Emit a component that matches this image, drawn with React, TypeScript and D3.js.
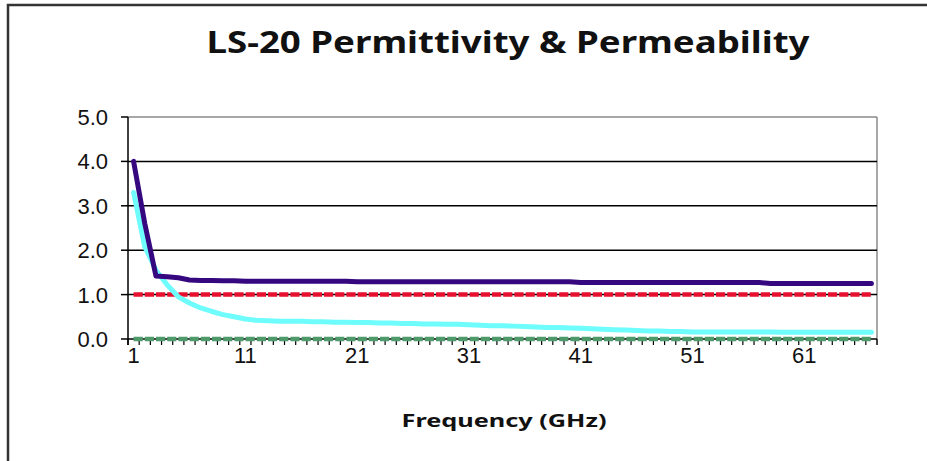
import React from "react";
import * as d3 from "d3";

const frequencies = [
  1, 2, 3, 4, 5, 6, 7, 8, 9, 10, 11, 12, 13, 14, 15, 16, 17, 18, 19, 20,
  21, 22, 23, 24, 25, 26, 27, 28, 29, 30, 31, 32, 33, 34, 35, 36, 37, 38, 39, 40,
  41, 42, 43, 44, 45, 46, 47, 48, 49, 50, 51, 52, 53, 54, 55, 56, 57, 58, 59, 60,
  61, 62, 63, 64, 65, 66, 67,
];

const permittivityReal = [
  4.0, 2.6, 1.42, 1.4, 1.38, 1.33, 1.32, 1.32, 1.31, 1.31,
  1.3, 1.3, 1.3, 1.3, 1.3, 1.3, 1.3, 1.3, 1.3, 1.3,
  1.29, 1.29, 1.29, 1.29, 1.29, 1.29, 1.29, 1.29, 1.29, 1.29,
  1.29, 1.29, 1.29, 1.29, 1.29, 1.29, 1.29, 1.29, 1.29, 1.29,
  1.27, 1.27, 1.27, 1.27, 1.27, 1.27, 1.27, 1.27, 1.27, 1.27,
  1.27, 1.27, 1.27, 1.27, 1.27, 1.27, 1.27, 1.25, 1.25, 1.25,
  1.25, 1.25, 1.25, 1.25, 1.25, 1.25, 1.25,
];

const permittivityImag = [
  3.3, 2.08, 1.55, 1.22, 0.95, 0.81, 0.7, 0.62, 0.55, 0.5,
  0.45, 0.42, 0.41, 0.4, 0.4, 0.4, 0.39, 0.39, 0.38, 0.38,
  0.37, 0.37, 0.36, 0.36, 0.35, 0.35, 0.34, 0.34, 0.33, 0.33,
  0.32, 0.31, 0.3, 0.3, 0.29, 0.28, 0.27, 0.26, 0.26, 0.25,
  0.24, 0.23, 0.22, 0.21, 0.2, 0.19, 0.18, 0.18, 0.17, 0.17,
  0.16, 0.16, 0.16, 0.16, 0.16, 0.16, 0.16, 0.16, 0.15, 0.15,
  0.15, 0.15, 0.15, 0.15, 0.15, 0.15, 0.15,
];

const permeabilityReal = [
  1, 1, 1, 1, 1, 1, 1, 1, 1, 1, 1, 1, 1, 1, 1, 1, 1, 1, 1, 1,
  1, 1, 1, 1, 1, 1, 1, 1, 1, 1, 1, 1, 1, 1, 1, 1, 1, 1, 1, 1,
  1, 1, 1, 1, 1, 1, 1, 1, 1, 1, 1, 1, 1, 1, 1, 1, 1, 1, 1, 1,
  1, 1, 1, 1, 1, 1, 1,
];

const permeabilityImag = [
  0, 0, 0, 0, 0, 0, 0, 0, 0, 0, 0, 0, 0, 0, 0, 0, 0, 0, 0, 0,
  0, 0, 0, 0, 0, 0, 0, 0, 0, 0, 0, 0, 0, 0, 0, 0, 0, 0, 0, 0,
  0, 0, 0, 0, 0, 0, 0, 0, 0, 0, 0, 0, 0, 0, 0, 0, 0, 0, 0, 0,
  0, 0, 0, 0, 0, 0, 0,
];

const yTicks = [0, 1, 2, 3, 4, 5];
const xTickLabels = [1, 11, 21, 31, 41, 51, 61];

const title = "LS-20 Permittivity & Permeability";
const xTitle = "Frequency (GHz)";

export default function App() {
  const W = 927;
  const H = 461;
  const left = 128;
  const right = 877;
  const top = 117;
  const bottom = 339;

  const x = d3
    .scaleBand<number>()
    .domain(frequencies)
    .range([left, right])
    .paddingInner(0)
    .paddingOuter(0);
  const bw = x.bandwidth();
  const cx = (f: number) => (x(f) as number) + bw / 2;
  const y = d3.scaleLinear().domain([0, 5]).range([bottom, top]);

  const line = d3
    .line<number>()
    .x((_, i) => cx(frequencies[i]))
    .y((v) => y(v));

  const series = [
    { values: permeabilityImag, color: "#4f9a6b", width: 4.5, dash: "9.2,2" },
    { values: permeabilityReal, color: "#e8102f", width: 4.5, dash: "9.2,2" },
    { values: permittivityImag, color: "#6ffcfc", width: 5, dash: undefined },
    { values: permittivityReal, color: "#35087f", width: 5, dash: undefined },
  ];

  const boundaries = frequencies.map((f) => x(f) as number).concat([right]);

  return (
    <svg
      width={W}
      height={H}
      style={{ position: "absolute", left: 0, top: 0, background: "#fff" }}
    >
      <rect x={0} y={0} width={W} height={H} fill="#fff" />
      <rect
        x={8}
        y={5}
        width={W + 20}
        height={H + 20}
        fill="none"
        stroke="#333"
        strokeWidth={2.5}
      />
      <text
        x={508}
        y={53}
        textAnchor="middle"
        fontFamily="Noto Sans"
        fontWeight="bold"
        fontSize={31}
        textLength={603}
        lengthAdjust="spacingAndGlyphs"
        fill="#111"
      >
        {title}
      </text>

      {/* plot area border (gray) */}
      <line x1={left} x2={right} y1={top} y2={top} stroke="#8a8a8a" strokeWidth={1.5} />
      <line x1={right} x2={right} y1={top} y2={bottom + 6} stroke="#8a8a8a" strokeWidth={1.5} />

      {/* gridlines */}
      {yTicks
        .filter((t) => t > 0 && t < 5)
        .map((t) => (
          <line
            key={"g" + t}
            x1={left}
            x2={right}
            y1={y(t)}
            y2={y(t)}
            stroke="#000"
            strokeWidth={1.5}
          />
        ))}

      {/* y axis */}
      <line x1={left} x2={left} y1={top} y2={bottom + 6} stroke="#000" strokeWidth={1.5} />
      {yTicks.map((t) => (
        <g key={"yt" + t}>
          <line x1={left - 7} x2={left} y1={y(t)} y2={y(t)} stroke="#000" strokeWidth={1.5} />
          <text
            x={108}
            y={y(t)}
            dy="0.36em"
            textAnchor="end"
            fontFamily="Liberation Sans, Arial"
            fontSize={22}
            fill="#111"
          >
            {t.toFixed(1)}
          </text>
        </g>
      ))}

      {/* x axis */}
      <line x1={left} x2={right} y1={bottom} y2={bottom} stroke="#000" strokeWidth={1.5} />
      {boundaries.map((b, i) => (
        <line key={"xt" + i} x1={b} x2={b} y1={bottom} y2={bottom + 6} stroke="#000" strokeWidth={1.2} />
      ))}
      {xTickLabels.map((f) => (
        <text
          key={"xl" + f}
          x={cx(f)}
          y={363}
          textAnchor="middle"
          fontFamily="Liberation Sans, Arial"
          fontSize={22}
          fill="#111"
        >
          {f}
        </text>
      ))}
      <text
        x={504}
        y={427}
        textAnchor="middle"
        fontFamily="Noto Sans"
        fontWeight="bold"
        fontSize={18}
        textLength={205}
        lengthAdjust="spacingAndGlyphs"
        fill="#111"
      >
        {xTitle}
      </text>

      {series.map((s, i) => (
        <path
          key={"s" + i}
          d={line(s.values) || ""}
          fill="none"
          stroke={s.color}
          strokeWidth={s.width}
          strokeLinejoin="round"
          strokeLinecap={s.dash ? "butt" : "round"}
          strokeDasharray={s.dash}
        />
      ))}
    </svg>
  );
}
